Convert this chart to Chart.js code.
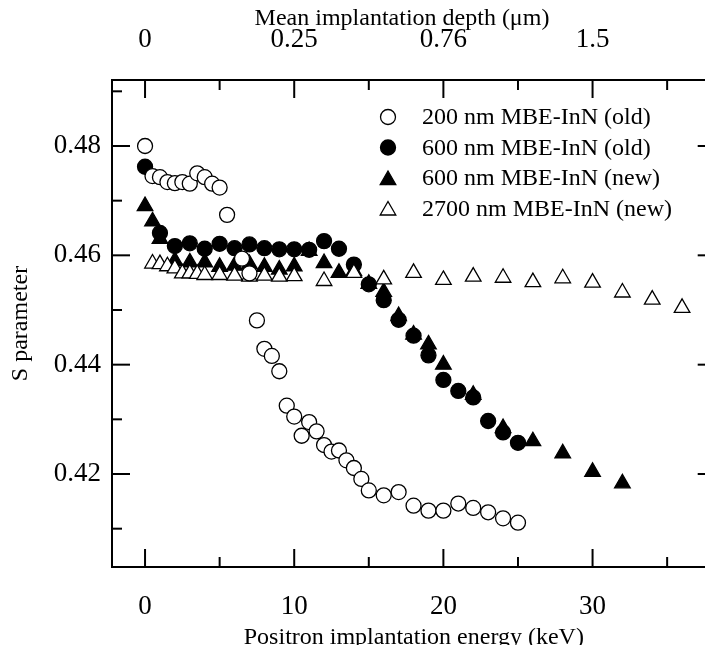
<!DOCTYPE html>
<html>
<head>
<meta charset="utf-8">
<script src="https://cdn.jsdelivr.net/npm/chart.js@4.4.1/dist/chart.umd.min.js"></script>
<style>
  html, body { margin: 0; padding: 0; background: #fff; overflow: hidden; }
  canvas { display: block; }
</style>
</head>
<body>
<!-- the figure is cropped on the right in the original, so the canvas runs past the window -->
<canvas id="myChart" width="726" height="645"></canvas>
<script>
// positron energy (keV) and S parameter
var e200old = [0, 0.5, 1, 1.5, 2, 2.5, 3, 3.5, 4, 4.5, 5, 5.5, 6.5, 7, 7.5, 8, 8.5, 9, 9.5, 10,
    10.5, 11, 11.5, 12, 12.5, 13, 13.5, 14, 14.5, 15, 16, 17, 18, 19, 20, 21, 22, 23, 24, 25];
var s200old = [0.4800, 0.4745, 0.4743, 0.4734, 0.4732, 0.4734, 0.4731, 0.4750, 0.4743, 0.4731,
    0.4724, 0.4674, 0.4594, 0.4567, 0.4481, 0.4429, 0.4416, 0.4388, 0.4325, 0.4305,
    0.4270, 0.4295, 0.4278, 0.4253, 0.4241, 0.4243, 0.4225, 0.4211, 0.4191, 0.4170,
    0.4161, 0.4167, 0.4142, 0.4133, 0.4133, 0.4146, 0.4138, 0.4130, 0.4119, 0.4111];

var e600old = [0, 1, 2, 3, 4, 5, 6, 7, 8, 9, 10, 11, 12, 13, 14, 15, 16, 17, 18, 19, 20, 21, 22, 23, 24, 25];
var s600old = [0.4762, 0.4641, 0.4617, 0.4622, 0.4612, 0.4621, 0.4613, 0.4620, 0.4613, 0.4611,
    0.4611, 0.4610, 0.4626, 0.4612, 0.4583, 0.4547, 0.4518, 0.4482, 0.4453, 0.4417,
    0.4372, 0.4352, 0.4340, 0.4297, 0.4276, 0.4257];

var e600new = [0, 0.5, 1, 2, 3, 4, 5, 6, 7, 8, 9, 10, 11, 12, 13, 14, 15, 16, 17, 18, 19, 20,
    22, 24, 26, 28, 30, 32];
var s600new = [0.4690, 0.4662, 0.4630, 0.4590, 0.4587, 0.4587, 0.4579, 0.4581, 0.4584, 0.4579,
    0.4574, 0.4580, 0.4608, 0.4586, 0.4568, 0.4571, 0.4548, 0.4533, 0.4489, 0.4455,
    0.4437, 0.4400, 0.4345, 0.4284, 0.4260, 0.4238, 0.4204, 0.4183];

var e2700new = [0.5, 1, 1.5, 2, 2.5, 3, 3.5, 4, 5, 6, 7, 8, 9, 10, 12, 14, 16, 18, 20, 22, 24,
    26, 28, 30, 32, 34, 36];
var s2700new = [0.4585, 0.4584, 0.4580, 0.4576, 0.4567, 0.4567, 0.4566, 0.4564, 0.4564, 0.4563,
    0.4561, 0.4563, 0.4561, 0.4562, 0.4553, 0.4568, 0.4556, 0.4568, 0.4555, 0.4561,
    0.4559, 0.4551, 0.4558, 0.4550, 0.4532, 0.4519, 0.4504];

var seriesNames = ['200 nm MBE-InN (old)', '600 nm MBE-InN (old)', '600 nm MBE-InN (new)', '2700 nm MBE-InN (new)'];

// axis ticks
var energyTicks = [0, 10, 20, 30];
var energyMinor = [5, 15, 25, 35];
var depthLabels = ['0', '0.25', '0.76', '1.5'];
var sTicks = [0.42, 0.44, 0.46, 0.48];
var sMinor = [0.41, 0.43, 0.45, 0.47, 0.49];
var depthTitle = 'Mean implantation depth (\u03bcm)';

var FONT = 'Liberation Serif, Times New Roman, serif';
var TICK_SIZE = 27;

function pts(xs, ys) {
    var out = [];
    for (var i = 0; i < xs.length; i++) {
        out.push({ x: xs[i], y: ys[i] });
    }
    return out;
}

var markers = [
    { style: 'circle', fill: '#fff', r: 7.5 },
    { style: 'circle', fill: '#000', r: 7.5 },
    { style: 'triangle', fill: '#000', r: 9 },
    { style: 'triangle', fill: '#fff', r: 9 }
];

var allX = [e200old, e600old, e600new, e2700new];
var allY = [s200old, s600old, s600new, s2700new];
var drawOrder = [1, 3, 4, 2];

var datasets = [];
for (var k = 0; k < 4; k++) {
    datasets.push({
        label: seriesNames[k],
        data: pts(allX[k], allY[k]),
        showLine: false,
        pointStyle: markers[k].style,
        pointRadius: markers[k].r,
        pointBackgroundColor: markers[k].fill,
        pointBorderColor: '#000',
        pointBorderWidth: 1.3,
        order: drawOrder[k]
    });
}

function setTicks(list) {
    return function (scale) {
        scale.ticks = list.map(function (v) { return { value: v }; });
    };
}

function fixSize(h, w) {
    return function (s) {
        if (h) { s.height = h; }
        if (w) { s.width = w; }
        s.paddingLeft = 0; s.paddingRight = 0;
        s.paddingTop = 0; s.paddingBottom = 0;
    };
}

function drawMarker(ctx, m, x, y) {
    ctx.beginPath();
    if (m.style === 'circle') {
        ctx.arc(x, y, m.r, 0, Math.PI * 2);
    } else {
        var r = m.r;
        ctx.moveTo(x, y - r);
        ctx.lineTo(x + r * Math.sin(2 * Math.PI / 3), y + r / 2);
        ctx.lineTo(x - r * Math.sin(2 * Math.PI / 3), y + r / 2);
        ctx.closePath();
    }
    ctx.fillStyle = m.fill;
    ctx.fill();
    ctx.lineWidth = 1.3;
    ctx.strokeStyle = '#000';
    ctx.stroke();
}

// inward tick marks, right spine, top title + legend
var extras = {
    id: 'extras',
    afterDraw: function (chart) {
        var ctx = chart.ctx;
        var a = chart.chartArea;
        var xs = chart.scales.x, ys = chart.scales.y;
        ctx.save();
        ctx.strokeStyle = '#000';
        ctx.lineWidth = 2;
        function line(x1, y1, x2, y2) {
            ctx.beginPath(); ctx.moveTo(x1, y1); ctx.lineTo(x2, y2); ctx.stroke();
        }
        line(a.right, a.top, a.right, a.bottom);
        energyTicks.forEach(function (v) {
            var px = xs.getPixelForValue(v);
            line(px, a.bottom, px, a.bottom - 18);
            line(px, a.top, px, a.top + 18);
        });
        energyMinor.forEach(function (v) {
            var px = xs.getPixelForValue(v);
            line(px, a.bottom, px, a.bottom - 10);
            line(px, a.top, px, a.top + 10);
        });
        sTicks.forEach(function (v) {
            var py = ys.getPixelForValue(v);
            line(a.left, py, a.left + 18, py);
            line(a.right, py, a.right - 18, py);
        });
        sMinor.forEach(function (v) {
            var py = ys.getPixelForValue(v);
            line(a.left, py, a.left + 10, py);
            line(a.right, py, a.right - 10, py);
        });

        ctx.fillStyle = '#000';
        ctx.font = '24px ' + FONT;
        ctx.textBaseline = 'middle';
        ctx.textAlign = 'center';
        ctx.fillText(depthTitle, 402, 19);

        // legend
        var lx = 388, tx = 422, ly = 117, step = 30.5;
        ctx.textAlign = 'left';
        for (var i = 0; i < seriesNames.length; i++) {
            var y = ly + i * step;
            var m = markers[i];
            drawMarker(ctx, m, lx, m.style === 'triangle' ? y + 2 : y);
            ctx.fillStyle = '#000';
            ctx.fillText(seriesNames[i], tx, y + 1);
        }
        ctx.restore();
    }
};

var ctx = document.getElementById('myChart').getContext('2d');
var myChart = new Chart(ctx, {
    type: 'scatter',
    data: { datasets: datasets },
    plugins: [extras],
    options: {
        responsive: false,
        animation: false,
        events: [],
        layout: { padding: 0 },
        plugins: { legend: { display: false }, tooltip: { enabled: false } },
        scales: {
            x: {
                type: 'linear', position: 'bottom',
                min: -2.215, max: 38.255,
                afterBuildTicks: setTicks(energyTicks),
                afterFit: fixSize(78, 0),
                grid: { display: false, drawTicks: false },
                border: { display: true, color: '#000', width: 2 },
                ticks: { color: '#000', padding: 24, font: { family: FONT, size: TICK_SIZE } },
                title: {
                    display: true, text: 'Positron implantation energy (keV)', color: '#000',
                    padding: { top: 0, bottom: -7 }, font: { family: FONT, size: 24 }
                }
            },
            x2: {
                type: 'linear', position: 'top',
                min: -2.215, max: 38.255,
                afterBuildTicks: setTicks(energyTicks),
                afterFit: fixSize(80, 0),
                grid: { display: false, drawTicks: false },
                border: { display: true, color: '#000', width: 2 },
                ticks: {
                    color: '#000', padding: 24, font: { family: FONT, size: TICK_SIZE },
                    callback: function (v) { return depthLabels[energyTicks.indexOf(v)]; }
                }
            },
            y: {
                type: 'linear', position: 'left',
                min: 0.40299, max: 0.49207,
                afterBuildTicks: setTicks(sTicks),
                afterFit: fixSize(0, 112),
                grid: { display: false, drawTicks: false },
                border: { display: true, color: '#000', width: 2 },
                ticks: {
                    color: '#000', padding: 11, font: { family: FONT, size: TICK_SIZE },
                    callback: function (v) { return v.toFixed(2); }
                },
                title: {
                    display: true, text: 'S parameter', color: '#000',
                    padding: { top: 6, bottom: 6 }, font: { family: FONT, size: 24 }
                }
            }
        }
    }
});
</script>
</body>
</html>
